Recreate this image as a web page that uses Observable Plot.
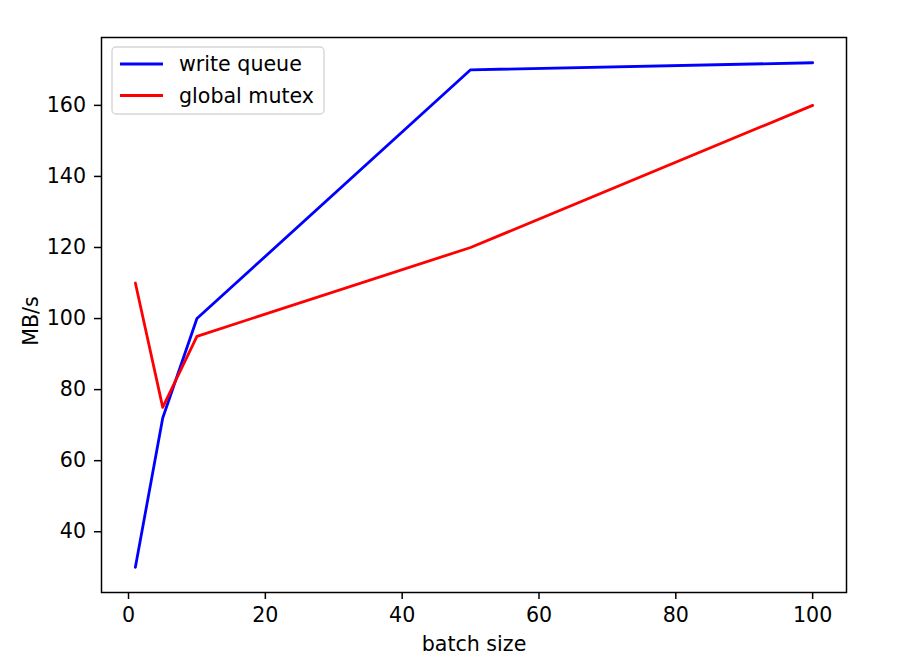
<!DOCTYPE html>
<html><head><meta charset="utf-8">
<script src="https://cdn.jsdelivr.net/npm/d3@7"></script>
<script src="https://cdn.jsdelivr.net/npm/@observablehq/plot@0.6"></script>
<style>body{margin:0;background:#fff;} svg{font-family:"DejaVu Sans",sans-serif;}</style>
</head><body><div id="chart"></div>
<script>
const batchSizes = [1, 5, 10, 50, 100];
const writeQueue = [30, 72, 100, 170, 172];
const globalMutex = [110, 75, 95, 120, 160];
const seriesNames = ["write queue", "global mutex"];
const seriesColors = ["blue", "red"];
const xTicks = [0, 20, 40, 60, 80, 100];
const yTicks = [40, 60, 80, 100, 120, 140, 160];
const xLabel = "batch size";
const yLabel = "MB/s";

const data = [];
[writeQueue, globalMutex].forEach((vals, s) => {
  batchSizes.forEach((b, i) => data.push({series: seriesNames[s], x: b, y: vals[i]}));
});

const pad = (lo, hi) => [lo - (hi - lo) * 0.05, hi + (hi - lo) * 0.05];
const xDom = pad(d3.min(batchSizes), d3.max(batchSizes));
const allY = writeQueue.concat(globalMutex);
const yDom = pad(d3.min(allY), d3.max(allY));
const FS = 20.6;

const chart = Plot.plot({
  width: 902, height: 659,
  marginLeft: 101, marginRight: 56, marginTop: 37, marginBottom: 67,
  style: {fontFamily: "DejaVu Sans, sans-serif", fontSize: FS + "px", color: "black", background: "white"},
  x: {domain: xDom},
  y: {domain: yDom},
  color: {domain: seriesNames, range: seriesColors},
  marks: [
    Plot.axisX({ticks: xTicks, tickSize: 7, tickPadding: 8, fontSize: FS, strokeWidth: 1.5, label: null}),
    Plot.axisY({ticks: yTicks, tickSize: 7, tickPadding: 8.5, fontSize: FS, strokeWidth: 1.5, label: null}),
    Plot.text([xLabel], {text: d => d, frameAnchor: "bottom", dy: 58, fontSize: FS, fill: "black"}),
    Plot.text([yLabel], {text: d => d, frameAnchor: "left", textAnchor: "middle", dx: -70, dy: 6, rotate: -90, fontSize: FS, fill: "black"}),
    Plot.line(data, {x: "x", y: "y", z: "series", stroke: "series", strokeWidth: 2.8}),
    Plot.frame({stroke: "black", strokeWidth: 1.5})
  ]
});
document.getElementById("chart").appendChild(chart);

// legend (matplotlib style, upper left)
const svg = d3.select(chart);
const lx = 112, ly = 47;
const g = svg.append("g").attr("text-anchor", "start");
g.append("rect").attr("x", lx).attr("y", ly).attr("width", 212).attr("height", 67)
  .attr("rx", 4).attr("fill", "white").attr("fill-opacity", 0.8).attr("stroke", "#d6d6d6").attr("stroke-width", 1.4);
seriesNames.forEach((n, i) => {
  const yy = ly + 17 + i * 31.5;
  g.append("line").attr("x1", lx + 8).attr("x2", lx + 51).attr("y1", yy).attr("y2", yy)
    .attr("stroke", seriesColors[i]).attr("stroke-width", 2.8);
  g.append("text").attr("x", lx + 67).attr("y", yy).attr("dy", "0.35em")
    .attr("font-size", FS).attr("fill", "black").text(n);
});
</script></body></html>
